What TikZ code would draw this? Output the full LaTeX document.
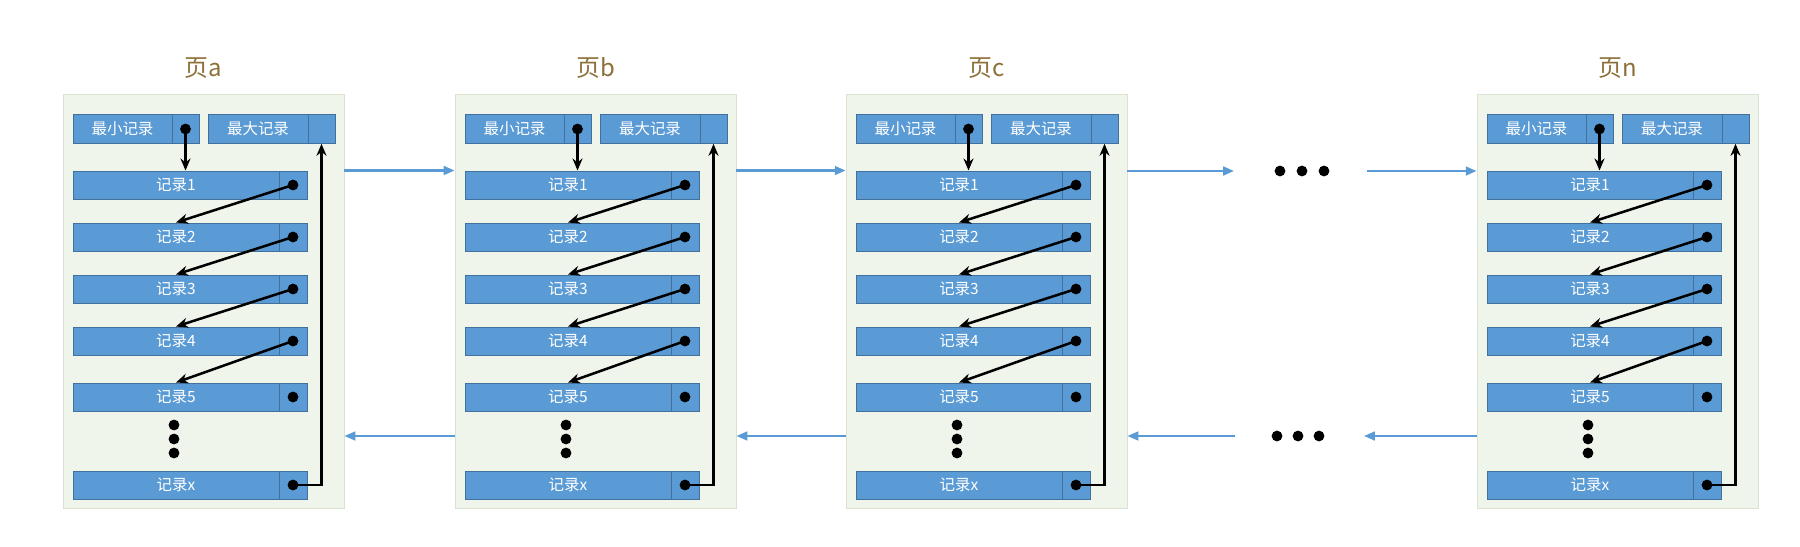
\documentclass[tikz,border=0pt]{standalone}
\usepackage{fontspec}
\setmainfont{Noto Sans CJK SC}
\usetikzlibrary{arrows.meta}

\definecolor{recblue}{RGB}{91,155,213}
\definecolor{recline}{RGB}{65,113,156}
\definecolor{pagefill}{RGB}{240,245,236}
\definecolor{pageline}{RGB}{218,226,210}
\definecolor{titlegold}{RGB}{140,112,55}

\begin{document}
\begin{tikzpicture}
[x=0.025cm, y=-0.025cm, line width=0.75pt,
page/.style={rectangle, draw=pageline, fill=pagefill, line width=0.6pt, inner sep=0pt, minimum width=7.025cm, minimum height=10.35cm},
title/.style={text=titlegold, inner sep=0pt, font=\fontsize{17}{17}\selectfont},
record/.style={rectangle, draw=recline, fill=recblue, line width=0.4pt, inner sep=0pt, text=white, font=\fontsize{11}{11}\selectfont, minimum width=5.15cm, minimum height=0.71cm},
head/.style={record, minimum width=2.475cm, minimum height=0.725cm},
pointer0/.style={rectangle, draw=recline, fill=recblue, line width=0.4pt, inner sep=0pt, minimum width=0.7cm, minimum height=0.71cm},
pointer1/.style={pointer0, path picture={\fill[black] (path picture bounding box.center) circle (0.135cm);}},
headptr0/.style={pointer0, minimum width=0.675cm, minimum height=0.725cm},
headptr1/.style={pointer1, minimum width=0.675cm, minimum height=0.725cm},
ellipsisdot/.style={circle, fill=black, inner sep=0pt, minimum size=0.27cm},
link/.style={draw=black, line width=1.8pt, -{Stealth[length=0.3cm,width=0.25cm]}},
flow/.style={draw=recblue, line width=1.5pt, -{Triangle[length=0.27cm,width=0.22cm]}}
]
\useasboundingbox (0,0) rectangle (1800,546);

% page a
\node[page] (pa) at (203.5,301) {};
\node[title] (ta) at (203.5,68) {页a};
\node[head] (amin) at (122.5,129) {最小记录};
\node[headptr1] (aminp) at (185.5,129) {};
\node[head, minimum width=2.5cm] (amax) at (258,129) {最大记录};
\node[headptr0] (amaxp) at (321.5,129) {};
\node[record] (a1) at (176,185) {记录1};
\node[pointer1] (a1p) at (293,185) {};
\node[record] (a2) at (176,237) {记录2};
\node[pointer1] (a2p) at (293,237) {};
\node[record] (a3) at (176,289) {记录3};
\node[pointer1] (a3p) at (293,289) {};
\node[record] (a4) at (176,341) {记录4};
\node[pointer1] (a4p) at (293,341) {};
\node[record] (a5) at (176,397) {记录5};
\node[pointer1] (a5p) at (293,397) {};
\node[ellipsisdot] (ad1) at (174,425) {};
\node[ellipsisdot] (ad2) at (174,439) {};
\node[ellipsisdot] (ad3) at (174,453) {};
\node[record] (ax) at (176,485) {记录x};
\node[pointer1] (axp) at (293,485) {};
\draw[link] (aminp.center) -- (aminp.center |- a1.north);
\draw[link] (a1p.center) -- (a2.north);
\draw[link] (a2p.center) -- (a3.north);
\draw[link] (a3p.center) -- (a4.north);
\draw[link] (a4p.center) -- (a5.north);
\draw[link] (axp.center) -| (amaxp.south);

% page b
\node[page] (pb) at (595.5,301) {};
\node[title] (tb) at (595.5,68) {页b};
\node[head] (bmin) at (514.5,129) {最小记录};
\node[headptr1] (bminp) at (577.5,129) {};
\node[head, minimum width=2.5cm] (bmax) at (650,129) {最大记录};
\node[headptr0] (bmaxp) at (713.5,129) {};
\node[record] (b1) at (568,185) {记录1};
\node[pointer1] (b1p) at (685,185) {};
\node[record] (b2) at (568,237) {记录2};
\node[pointer1] (b2p) at (685,237) {};
\node[record] (b3) at (568,289) {记录3};
\node[pointer1] (b3p) at (685,289) {};
\node[record] (b4) at (568,341) {记录4};
\node[pointer1] (b4p) at (685,341) {};
\node[record] (b5) at (568,397) {记录5};
\node[pointer1] (b5p) at (685,397) {};
\node[ellipsisdot] (bd1) at (566,425) {};
\node[ellipsisdot] (bd2) at (566,439) {};
\node[ellipsisdot] (bd3) at (566,453) {};
\node[record] (bx) at (568,485) {记录x};
\node[pointer1] (bxp) at (685,485) {};
\draw[link] (bminp.center) -- (bminp.center |- b1.north);
\draw[link] (b1p.center) -- (b2.north);
\draw[link] (b2p.center) -- (b3.north);
\draw[link] (b3p.center) -- (b4.north);
\draw[link] (b4p.center) -- (b5.north);
\draw[link] (bxp.center) -| (bmaxp.south);

% page c
\node[page] (pc) at (986.5,301) {};
\node[title] (tc) at (986.5,68) {页c};
\node[head] (cmin) at (905.5,129) {最小记录};
\node[headptr1] (cminp) at (968.5,129) {};
\node[head, minimum width=2.5cm] (cmax) at (1041,129) {最大记录};
\node[headptr0] (cmaxp) at (1104.5,129) {};
\node[record] (c1) at (959,185) {记录1};
\node[pointer1] (c1p) at (1076,185) {};
\node[record] (c2) at (959,237) {记录2};
\node[pointer1] (c2p) at (1076,237) {};
\node[record] (c3) at (959,289) {记录3};
\node[pointer1] (c3p) at (1076,289) {};
\node[record] (c4) at (959,341) {记录4};
\node[pointer1] (c4p) at (1076,341) {};
\node[record] (c5) at (959,397) {记录5};
\node[pointer1] (c5p) at (1076,397) {};
\node[ellipsisdot] (cd1) at (957,425) {};
\node[ellipsisdot] (cd2) at (957,439) {};
\node[ellipsisdot] (cd3) at (957,453) {};
\node[record] (cx) at (959,485) {记录x};
\node[pointer1] (cxp) at (1076,485) {};
\draw[link] (cminp.center) -- (cminp.center |- c1.north);
\draw[link] (c1p.center) -- (c2.north);
\draw[link] (c2p.center) -- (c3.north);
\draw[link] (c3p.center) -- (c4.north);
\draw[link] (c4p.center) -- (c5.north);
\draw[link] (cxp.center) -| (cmaxp.south);

% page n
\node[page] (pn) at (1617.5,301) {};
\node[title] (tn) at (1617.5,68) {页n};
\node[head] (nmin) at (1536.5,129) {最小记录};
\node[headptr1] (nminp) at (1599.5,129) {};
\node[head, minimum width=2.5cm] (nmax) at (1672,129) {最大记录};
\node[headptr0] (nmaxp) at (1735.5,129) {};
\node[record] (n1) at (1590,185) {记录1};
\node[pointer1] (n1p) at (1707,185) {};
\node[record] (n2) at (1590,237) {记录2};
\node[pointer1] (n2p) at (1707,237) {};
\node[record] (n3) at (1590,289) {记录3};
\node[pointer1] (n3p) at (1707,289) {};
\node[record] (n4) at (1590,341) {记录4};
\node[pointer1] (n4p) at (1707,341) {};
\node[record] (n5) at (1590,397) {记录5};
\node[pointer1] (n5p) at (1707,397) {};
\node[ellipsisdot] (nd1) at (1588,425) {};
\node[ellipsisdot] (nd2) at (1588,439) {};
\node[ellipsisdot] (nd3) at (1588,453) {};
\node[record] (nx) at (1590,485) {记录x};
\node[pointer1] (nxp) at (1707,485) {};
\draw[link] (nminp.center) -- (nminp.center |- n1.north);
\draw[link] (n1p.center) -- (n2.north);
\draw[link] (n2p.center) -- (n3.north);
\draw[link] (n3p.center) -- (n4.north);
\draw[link] (n4p.center) -- (n5.north);
\draw[link] (nxp.center) -| (nmaxp.south);

% gap between c and n
\node[ellipsisdot] (e1) at (1280,171) {};
\node[ellipsisdot] (e2) at (1302,171) {};
\node[ellipsisdot] (e3) at (1324,171) {};
\node[ellipsisdot] (f1) at (1277,436) {};
\node[ellipsisdot] (f2) at (1298,436) {};
\node[ellipsisdot] (f3) at (1319,436) {};
\coordinate (g1) at (1234,171);
\coordinate (g2) at (1367,171);
\coordinate (g3) at (1364,436);
\coordinate (g4) at (1235,436);

% page to page
\draw[flow] (pa.east |- a1.north) -- (pb.west |- a1.north);
\draw[flow] (pb.east |- b1.north) -- (pc.west |- b1.north);
\draw[flow] (pc.east |- g1) -- (g1);
\draw[flow] (g2) -- (pn.west |- g2);
\draw[flow] (pb.west |- f1) -- (pa.east |- f1);
\draw[flow] (pc.west |- f1) -- (pb.east |- f1);
\draw[flow] (g4) -- (pc.east |- g4);
\draw[flow] (pn.west |- g3) -- (g3);
\end{tikzpicture}
\end{document}
